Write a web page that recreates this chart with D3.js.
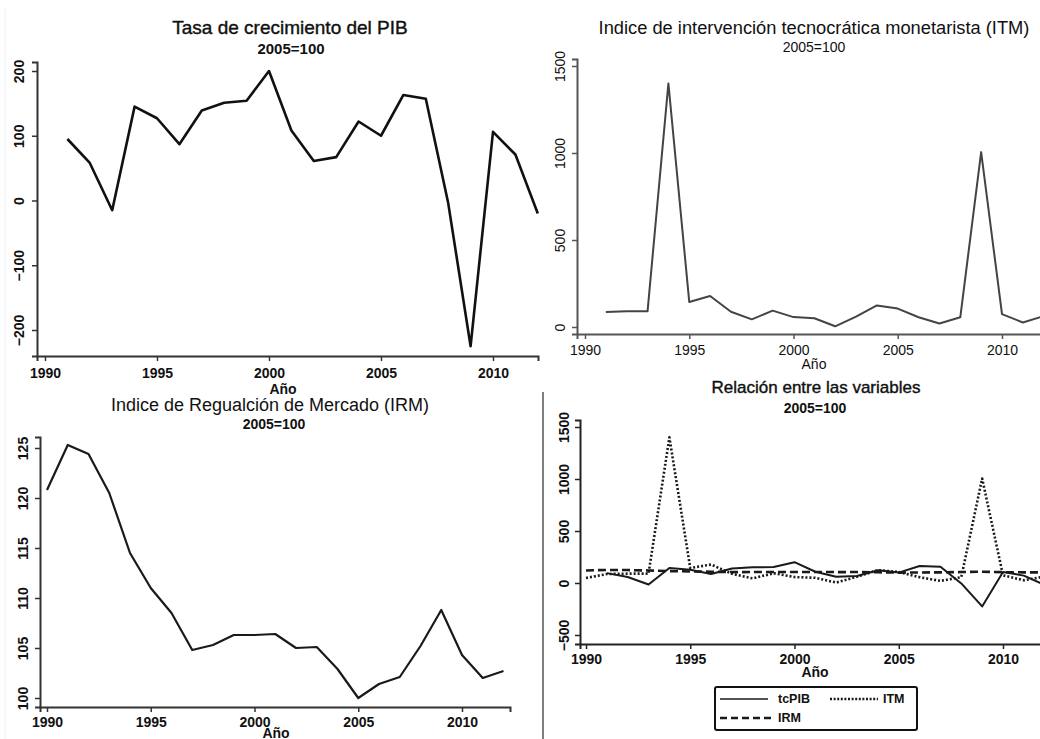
<!DOCTYPE html>
<html>
<head>
<meta charset="utf-8">
<script src="https://cdn.jsdelivr.net/npm/d3@7"></script>
<style>
  html, body { margin: 0; padding: 0; background: #fff; }
  svg { display: block; font-family: "Liberation Sans", Arial, Helvetica, sans-serif; }
</style>
</head>
<body>
<svg id="chart" width="1040" height="739"></svg>
<script>
// ---------------- DATA ----------------
const years = d3.range(1990, 2013);
const tcPIB = [null, 95, 58, -15, 145, 127, 87, 139, 151, 154, 200, 108, 61, 67, 122, 100, 163, 157, -4, -225, 106, 71, -20];
const itm   = [48, 86, 90, 90, 1400, 144, 178, 88, 44, 94, 57, 50, 4, 60, 124, 106, 56, 20, 56, 1005, 74, 26, 62];
const irm   = [120.8, 125.3, 124.4, 120.5, 114.5, 111.0, 108.5, 104.8, 105.3, 106.3, 106.3, 106.4, 105.0, 105.1, 102.9, 100.0, 101.4, 102.1, 105.2, 108.8, 104.3, 102.0, 102.7];
const xTickYears = [1990, 1995, 2000, 2005, 2010];
const yTicksPIB = [-200, -100, 0, 100, 200];
const yTicksITM = [0, 500, 1000, 1500];
const yTicksIRM = [100, 105, 110, 115, 120, 125];
const yTicksAll = [-500, 0, 500, 1000, 1500];
const titles = {
  pib: ["Tasa de crecimiento del PIB", "2005=100"],
  itm: ["Indice de intervención tecnocrática monetarista (ITM)", "2005=100"],
  irm: ["Indice de Regualción de Mercado (IRM)", "2005=100"],
  all: ["Relación entre las variables", "2005=100"]
};
const xLabel = "Año";
const legendItems = [
  { name: "tcPIB", key: "pib" },
  { name: "ITM", key: "itm" },
  { name: "IRM", key: "irm" }
];

// ---------------- DRAW ----------------
const svg = d3.select("#chart");
svg.append("rect").attr("width", 1040).attr("height", 739).attr("fill", "#fff");
svg.append("line").attr("x1", 5).attr("x2", 5).attr("y1", 8).attr("y2", 739)
  .attr("stroke", "#f0f0f0").attr("stroke-width", 1);

function makeScales(cfg) {
  const x = d3.scaleLinear().domain([1990, 2010]).range(cfg.xRef);
  x.domain([x.invert(cfg.xExt[0]), x.invert(cfg.xExt[1])]).range(cfg.xExt);
  const y = d3.scaleLinear().domain(cfg.yRefVals).range(cfg.yRefPx);
  y.domain([y.invert(cfg.yExt[1]), y.invert(cfg.yExt[0])]).range([cfg.yExt[1], cfg.yExt[0]]);
  return { x, y };
}

function drawPanel(cfg) {
  const { x, y } = makeScales(cfg);
  const g = svg.append("g");
  const tickW = cfg.tickBold ? "bold" : "normal";

  // x axis
  const gx = g.append("g").attr("transform", `translate(0,${cfg.yExt[1]})`)
    .call(d3.axisBottom(x).tickValues(xTickYears).tickFormat(d3.format("d")).tickSizeOuter(0).tickSize(5));
  gx.select(".domain").attr("stroke", cfg.axisColor).attr("stroke-width", 2);
  gx.selectAll(".tick line").attr("stroke", cfg.axisColor).attr("stroke-width", 1.5);
  gx.selectAll(".tick text").attr("y", cfg.xLabOff).attr("fill", "#111")
    .style("font-size", "14px").style("font-weight", tickW);

  // y axis
  const gy = g.append("g").attr("transform", `translate(${cfg.xExt[0]},0)`)
    .call(d3.axisLeft(y).tickValues(cfg.yTicks).tickFormat(d3.format("d")).tickSizeOuter(0).tickSize(5));
  gy.select(".domain").attr("stroke", cfg.axisColor).attr("stroke-width", 2);
  gy.selectAll(".tick line").attr("stroke", cfg.axisColor).attr("stroke-width", 1.5);
  gy.selectAll(".tick text").attr("transform", "rotate(-90)")
    .attr("x", 0).attr("y", -cfg.yLabOff).attr("dy", 0)
    .attr("text-anchor", "middle").attr("fill", "#111")
    .style("font-size", "14px").style("font-weight", tickW);

  // titles
  g.append("text").attr("x", cfg.title[0]).attr("y", cfg.title[1])
    .attr("text-anchor", "middle").attr("dominant-baseline", "central")
    .style("font-size", cfg.titleSize + "px").attr("fill", "#111")
    .attr("stroke", "#111").attr("stroke-width", cfg.titleStroke || 0)
    .style("font-weight", "normal").text(cfg.titles[0]);
  g.append("text").attr("x", cfg.sub[0]).attr("y", cfg.sub[1])
    .attr("text-anchor", "middle").attr("dominant-baseline", "central")
    .style("font-size", cfg.subSize + "px").attr("fill", "#111")
    .style("font-weight", cfg.subBold ? "bold" : "normal").text(cfg.titles[1]);
  g.append("text").attr("x", cfg.xlab[0]).attr("y", cfg.xlab[1])
    .attr("text-anchor", "middle").attr("dominant-baseline", "central")
    .style("font-size", "14px").attr("fill", "#111")
    .style("font-weight", cfg.tickBold ? "bold" : "normal").text(xLabel);

  // series
  cfg.series.forEach(s => {
    const pts = years.map((yr, i) => ({ yr, v: s.values[i] }))
      .filter(d => d.v !== null && d.yr >= (s.from || 1990));
    const line = d3.line().x(d => x(d.yr)).y(d => y(d.v));
    g.append("path").datum(pts).attr("d", line).attr("fill", "none")
      .attr("stroke", s.color).attr("stroke-width", s.width)
      .attr("stroke-dasharray", s.dash || null)
      .attr("stroke-linejoin", "round");
  });
  return { x, y };
}

const styles = {
  pib: { color: "#1a1a1a", width: 2, dash: null },
  itm: { color: "#1a1a1a", width: 2.6, dash: "2,2" },
  irm: { color: "#1a1a1a", width: 2.6, dash: "8,4" }
};

// Panel 1: tcPIB
drawPanel({
  xRef: [45, 493], xExt: [37, 538],
  yRefVals: [-200, 200], yRefPx: [330, 71], yExt: [62, 356],
  yTicks: yTicksPIB, axisColor: "#333", tickBold: true,
  xLabOff: 12, yLabOff: 13,
  titles: titles.pib, title: [290, 27], titleSize: 19, titleStroke: 0.4, sub: [291, 48], subSize: 15, subBold: true,
  xlab: [283, 389],
  series: [{ values: tcPIB, color: "#111", width: 2.6 }]
});

// Panel 2: ITM
drawPanel({
  xRef: [585, 1002], xExt: [577, 1045],
  yRefVals: [0, 1500], yRefPx: [327, 66], yExt: [59, 334],
  yTicks: yTicksITM, axisColor: "#555", tickBold: false,
  xLabOff: 11, yLabOff: 12,
  titles: titles.itm, title: [814, 27], titleSize: 18.3, sub: [814, 47], subSize: 14, subBold: false,
  xlab: [814, 364],
  series: [{ values: itm, color: "#444", width: 2, from: 1991 }]
});

// Panel 3: IRM
drawPanel({
  xRef: [47, 462], xExt: [40, 510],
  yRefVals: [100, 125], yRefPx: [698, 448], yExt: [437, 707],
  yTicks: yTicksIRM, axisColor: "#333", tickBold: true,
  xLabOff: 10, yLabOff: 12,
  titles: titles.irm, title: [270, 405], titleSize: 18, sub: [274, 424], subSize: 14, subBold: true,
  xlab: [276, 733],
  series: [{ values: irm, color: "#1a1a1a", width: 2.2 }]
});

// Panel 4: all
drawPanel({
  xRef: [586, 1003], xExt: [580, 1045],
  yRefVals: [0, 1500], yRefPx: [583, 427], yExt: [420, 644],
  yTicks: yTicksAll, axisColor: "#222", tickBold: true,
  xLabOff: 10, yLabOff: 11,
  titles: titles.all, title: [816, 387], titleSize: 17, titleStroke: 0.4, sub: [815, 408], subSize: 14, subBold: true,
  xlab: [815, 672],
  series: [
    { values: irm, ...styles.irm },
    { values: itm, ...styles.itm },
    { values: tcPIB, ...styles.pib }
  ]
});

// separator
svg.append("line").attr("x1", 543).attr("x2", 543).attr("y1", 392).attr("y2", 739)
  .attr("stroke", "#555").attr("stroke-width", 1.5);

// legend
const lg = svg.append("g");
lg.append("rect").attr("x", 715).attr("y", 687).attr("width", 202).attr("height", 43)
  .attr("rx", 2).attr("fill", "#fff").attr("stroke", "#111").attr("stroke-width", 2);
const legPos = [
  { x1: 720, x2: 768, tx: 778, y: 699 },
  { x1: 830, x2: 878, tx: 883, y: 699 },
  { x1: 720, x2: 772, tx: 778, y: 718 }
];
legendItems.forEach((it, i) => {
  const p = legPos[i], s = styles[it.key];
  lg.append("line").attr("x1", p.x1).attr("x2", p.x2).attr("y1", p.y).attr("y2", p.y)
    .attr("stroke", s.color).attr("stroke-width", it.key === "pib" ? 1.5 : 2.4)
    .attr("stroke-dasharray", it.key === "itm" ? "2,1.6" : (it.key === "irm" ? "7,4" : null));
  lg.append("text").attr("x", p.tx).attr("y", p.y).attr("dominant-baseline", "central")
    .style("font-size", "12.5px").style("font-weight", "bold").attr("fill", "#111").text(it.name);
});
</script>
</body>
</html>
